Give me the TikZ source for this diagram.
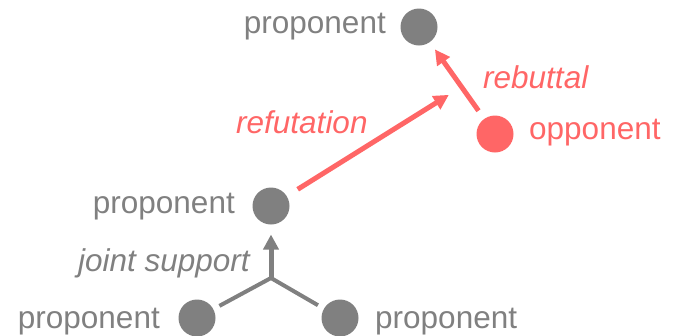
\documentclass[tikz,border=0pt]{standalone}
\usepackage{fontspec}
\setmainfont{Liberation Sans}
\usetikzlibrary{arrows.meta,calc}
\definecolor{argGray}{RGB}{128,128,128}
\definecolor{argRed}{RGB}{255,102,102}
\begin{document}
\begin{tikzpicture}[x=1pt,y=-1pt,
  dot/.style={circle,fill=#1,minimum size=37pt,inner sep=0pt,outer sep=0pt},
  lbl/.style={font=\fontsize{31.5}{36}\selectfont,text=#1,inner sep=0pt},
  elbl/.style={font=\fontsize{31.5}{36}\selectfont\itshape,text=#1,inner sep=0pt},
  tip/.style={-{Triangle[width=15pt,length=15pt]}},
  gline/.style={draw=argGray,line width=4pt},
  garrow/.style={draw=argGray,line width=5pt,tip},
  rarrow/.style={draw=argRed,line width=5pt,tip}]
\useasboundingbox (0,0) rectangle (677,335);

% argument nodes
\node[dot=argGray] (top) at (419,27) {};
\node[dot=argRed]  (opp) at (495,134) {};
\node[dot=argGray] (mid) at (271,206) {};
\node[dot=argGray] (bl)  at (197,318) {};
\node[dot=argGray] (br)  at (340,318) {};

% node labels
\node[lbl=argGray,anchor=base east] (ltop) at (386,33)  {proponent};
\node[lbl=argRed, anchor=base west] (lopp) at (529,139) {opponent};
\node[lbl=argGray,anchor=base east] (lmid) at (235,213) {proponent};
\node[lbl=argGray,anchor=base east] (lbl)  at (160,328) {proponent};
\node[lbl=argGray,anchor=base west] (lbr)  at (375,328) {proponent};

% edge labels
\node[elbl=argRed, anchor=base west] (lreb) at (483,88)  {rebuttal};
\node[elbl=argRed, anchor=base west] (lref) at (236,133) {refutation};
\node[elbl=argGray,anchor=base east] (ljs)  at (250,271) {joint support};

% joint support
\coordinate (j) at (271,278);
\draw[gline,shorten <=7pt,shorten >=7pt] (bl) -- (j) -- (br);
\draw[garrow,shorten >=10pt] (j) -- (mid);

% rebuttal and refutation of the rebuttal
\draw[rarrow,shorten <=10pt,shorten >=9pt] (opp) -- (top);
\coordinate (hit) at ($(opp)!0.44!(top)$);
\draw[rarrow,shorten <=13pt,shorten >=15pt] (mid) -- (hit);
\end{tikzpicture}
\end{document}
